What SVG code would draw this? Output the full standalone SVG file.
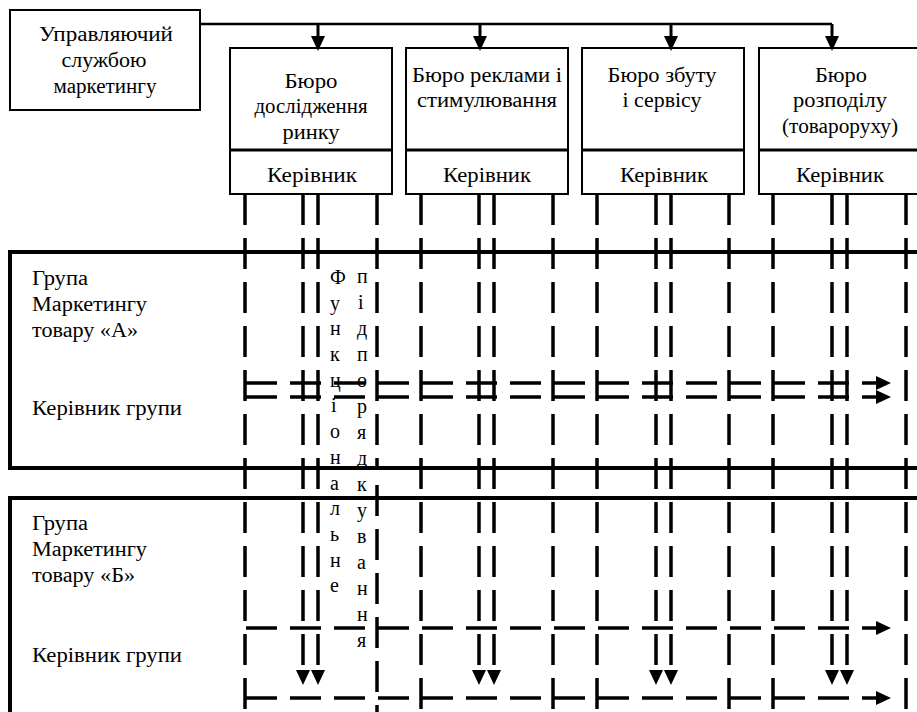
<svg xmlns="http://www.w3.org/2000/svg" width="917" height="712" viewBox="0 0 917 712">
<defs>
<style>
text{font-family:"Liberation Serif","Times New Roman",serif;font-size:20px;fill:#000}
.c{text-anchor:middle}
.box{fill:#fff;stroke:#000;stroke-width:2}
.div{stroke:#000;stroke-width:3}
.grp{fill:none;stroke:#000;stroke-width:4}
.solid{fill:none;stroke:#000;stroke-width:2.5}
.shaft{fill:none;stroke:#000;stroke-width:3}
.dv{fill:none;stroke:#000;stroke-width:3.5;stroke-dasharray:31 13}
.dh{fill:none;stroke:#000;stroke-width:3.5;stroke-dasharray:31 13}
.vl{font-size:20px}
</style>
<marker id="ah" viewBox="0 0 15 14" markerWidth="15" markerHeight="14" refX="0" refY="7" orient="auto" markerUnits="userSpaceOnUse">
<path d="M0,0 L15,7 L0,14 z" fill="#000"/>
</marker>
</defs>
<rect width="917" height="712" fill="#fff"/>

<g id="manager">
<rect class="box" x="10" y="10" width="190" height="100"/>
<text class="c" x="106" y="41" textLength="134" lengthAdjust="spacingAndGlyphs">Управляючий</text>
<text class="c" x="104" y="67" textLength="85" lengthAdjust="spacingAndGlyphs">службою</text>
<text class="c" x="105" y="93" textLength="103" lengthAdjust="spacingAndGlyphs">маркетингу</text>
</g>

<g id="bureau-1">
<rect class="box" x="230" y="48" width="162" height="146"/>
<line class="div" x1="230" y1="150" x2="392" y2="150"/>
<text class="c" x="311" y="88" textLength="53" lengthAdjust="spacingAndGlyphs">Бюро</text>
<text class="c" x="311" y="113" textLength="113" lengthAdjust="spacingAndGlyphs">дослідження</text>
<text class="c" x="311" y="139" textLength="57" lengthAdjust="spacingAndGlyphs">ринку</text>
<text class="c" x="312" y="182" textLength="90" lengthAdjust="spacingAndGlyphs">Керівник</text>
</g>
<g id="bureau-2">
<rect class="box" x="406" y="48" width="162" height="146"/>
<line class="div" x1="406" y1="150" x2="568" y2="150"/>
<text class="c" x="487" y="82" textLength="150" lengthAdjust="spacingAndGlyphs">Бюро реклами і</text>
<text class="c" x="487" y="107" textLength="140" lengthAdjust="spacingAndGlyphs">стимулювання</text>
<text class="c" x="487" y="182" textLength="88" lengthAdjust="spacingAndGlyphs">Керівник</text>
</g>
<g id="bureau-3">
<rect class="box" x="582" y="48" width="162" height="146"/>
<line class="div" x1="582" y1="150" x2="744" y2="150"/>
<text class="c" x="662" y="82" textLength="109" lengthAdjust="spacingAndGlyphs">Бюро збуту</text>
<text class="c" x="662" y="107" textLength="79" lengthAdjust="spacingAndGlyphs">і сервісу</text>
<text class="c" x="664" y="182" textLength="88" lengthAdjust="spacingAndGlyphs">Керівник</text>
</g>
<g id="bureau-4">
<rect class="box" x="759" y="48" width="162" height="146"/>
<line class="div" x1="759" y1="150" x2="921" y2="150"/>
<text class="c" x="841" y="82" textLength="52" lengthAdjust="spacingAndGlyphs">Бюро</text>
<text class="c" x="840" y="107" textLength="94" lengthAdjust="spacingAndGlyphs">розподілу</text>
<text class="c" x="840" y="133" textLength="116" lengthAdjust="spacingAndGlyphs">(товароруху)</text>
<text class="c" x="840" y="182" textLength="88" lengthAdjust="spacingAndGlyphs">Керівник</text>
</g>

<g id="group-a">
<rect class="grp" x="10" y="252" width="920" height="216"/>
<text x="32" y="285" textLength="56" lengthAdjust="spacingAndGlyphs">Група</text>
<text x="32" y="311" textLength="115" lengthAdjust="spacingAndGlyphs">Маркетингу</text>
<text x="32" y="337" textLength="106" lengthAdjust="spacingAndGlyphs">товару «А»</text>
<text x="32" y="415" textLength="150" lengthAdjust="spacingAndGlyphs">Керівник групи</text>
</g>
<g id="group-b">
<rect class="grp" x="10" y="498" width="920" height="230"/>
<text x="32" y="530" textLength="56" lengthAdjust="spacingAndGlyphs">Група</text>
<text x="32" y="556" textLength="115" lengthAdjust="spacingAndGlyphs">Маркетингу</text>
<text x="32" y="582" textLength="103" lengthAdjust="spacingAndGlyphs">товару «Б»</text>
<text x="32" y="662" textLength="150" lengthAdjust="spacingAndGlyphs">Керівник групи</text>
</g>

<g id="vertical-labels">
<text class="vl"><tspan x="330" y="284">Ф</tspan><tspan x="330" y="310">у</tspan><tspan x="330" y="335">н</tspan><tspan x="330" y="361">к</tspan><tspan x="330" y="387">ц</tspan><tspan x="331" y="412">і</tspan><tspan x="330" y="438">о</tspan><tspan x="330" y="464">н</tspan><tspan x="330" y="490">а</tspan><tspan x="330" y="515">л</tspan><tspan x="330" y="541">ь</tspan><tspan x="330" y="567">н</tspan><tspan x="330" y="592">е</tspan></text>
<text class="vl"><tspan x="357" y="283">п</tspan><tspan x="358" y="309">і</tspan><tspan x="357" y="335">д</tspan><tspan x="357" y="361">п</tspan><tspan x="357" y="387">о</tspan><tspan x="357" y="413">р</tspan><tspan x="357" y="439">я</tspan><tspan x="357" y="465">д</tspan><tspan x="357" y="491">к</tspan><tspan x="357" y="517">у</tspan><tspan x="357" y="543">в</tspan><tspan x="357" y="569">а</tspan><tspan x="357" y="595">н</tspan><tspan x="357" y="621">н</tspan><tspan x="357" y="647">я</tspan></text>
</g>

<g id="connectors">
<path class="solid" d="M200,24 H832"/>
<path class="shaft" d="M318,24 V36" marker-end="url(#ah)"/>
<path class="shaft" d="M480,24 V36" marker-end="url(#ah)"/>
<path class="shaft" d="M671,24 V36" marker-end="url(#ah)"/>
<path class="shaft" d="M832,24 V36" marker-end="url(#ah)"/>

<path class="dv" d="M245,194 V712 M421,194 V712 M597,194 V712 M729,194 V712 M773,194 V712 M906,194 V712 M553,194 V712"/>
<path class="dv" d="M377,194 V470 M377,485 V712"/>
<path class="dv" d="M303,194 V670" marker-end="url(#ah)"/>
<path class="dv" d="M318,194 V670" marker-end="url(#ah)"/>
<path class="dv" d="M479,194 V670" marker-end="url(#ah)"/>
<path class="dv" d="M494,194 V670" marker-end="url(#ah)"/>
<path class="dv" d="M656,194 V670" marker-end="url(#ah)"/>
<path class="dv" d="M671,194 V670" marker-end="url(#ah)"/>
<path class="dv" d="M832,194 V670" marker-end="url(#ah)"/>
<path class="dv" d="M847,194 V670" marker-end="url(#ah)"/>

<path class="dh" d="M246,383 H876" marker-end="url(#ah)"/>
<path class="dh" d="M246,397 H876" marker-end="url(#ah)"/>
<path class="dh" d="M246,628 H876" marker-end="url(#ah)"/>
<path class="dh" d="M246,698 H876" marker-end="url(#ah)"/>
</g>
</svg>
